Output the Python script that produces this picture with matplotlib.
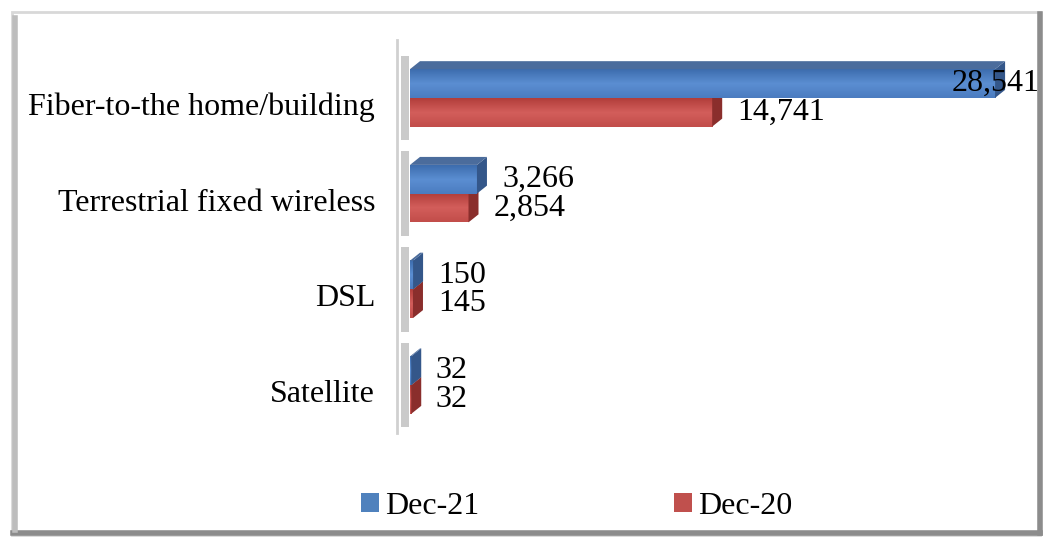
import numpy as np
import matplotlib
matplotlib.use("Agg")
import matplotlib.pyplot as plt
from matplotlib.patches import Polygon, Rectangle
from matplotlib.colors import LinearSegmentedColormap

categories = ["Fiber-to-the home/building", "Terrestrial fixed wireless", "DSL", "Satellite"]
dec21 = [28541, 3266, 150, 32]
dec20 = [14741, 2854, 145, 32]
series_names = ["Dec-21", "Dec-20"]

FONT = "Liberation Serif"
FS = 23
W, H = 1048, 541
XMAX = 30000
H_BAR = 0.30

fig = plt.figure(figsize=(W / 100, H / 100), dpi=100)
fig.patch.set_facecolor("white")

# outer frame with shadow
fig.add_artist(Rectangle((12 / W, 1 - 535 / H), 1028 / W, 523 / H, transform=fig.transFigure,
                         fill=False, edgecolor="#D8D8D8", linewidth=2))
fig.add_artist(plt.Line2D([13 / W, 1040 / W], [1 - 533 / H] * 2, transform=fig.transFigure,
                          color="#8C8C8C", linewidth=4))
fig.add_artist(plt.Line2D([1040 / W] * 2, [1 - 533 / H, 1 - 14 / H], transform=fig.transFigure,
                          color="#8C8C8C", linewidth=4))
fig.add_artist(plt.Line2D([15 / W] * 2, [1 - 530 / H, 1 - 18 / H], transform=fig.transFigure,
                          color="#BDBDBD", linewidth=4))

ax = fig.add_axes([410 / W, (H - 433) / H, 615 / W, 383 / H])
ax.set_xlim(0, XMAX)
ax.set_ylim(-0.5, len(categories) - 0.5)
ax.axis("off")

# depth of 3D effect in data units
dx = 10 * XMAX / 615
dy = 8 / 96

blue = LinearSegmentedColormap.from_list("b", ["#3D6DAE", "#5B8ED2", "#4B7CC0"])
red = LinearSegmentedColormap.from_list("r", ["#B23E3B", "#D35E5B", "#C24D4A"])
grad = np.linspace(0, 1, 50).reshape(-1, 1)

ypos = np.arange(len(categories))[::-1]

# left wall
for y in ypos:
    ax.add_patch(Rectangle((-dx * 0.9, y - 0.5 + 0.06), dx * 0.8, 0.88, facecolor="#8A8A8A",
                           alpha=0.45, edgecolor="none", clip_on=False))
ax.plot([-dx * 1.3, -dx * 1.3], [-0.5, len(categories) - 0.4], color="#D0D0D0", lw=2, clip_on=False)


def bar3d(x, y0, h, cmap, top, side):
    ax.imshow(grad, extent=[0, max(x, 60), y0, y0 + h], aspect="auto", cmap=cmap, zorder=2)
    xe = max(x, 60)
    ax.add_patch(Polygon([[xe, y0], [xe + dx, y0 + dy], [xe + dx, y0 + h + dy], [xe, y0 + h]],
                         closed=True, facecolor=side, edgecolor="none", zorder=2, clip_on=False))
    ax.add_patch(Polygon([[0, y0 + h], [dx, y0 + h + dy], [xe + dx, y0 + h + dy], [xe, y0 + h]],
                         closed=True, facecolor=top, edgecolor="none", zorder=2, clip_on=False))


for y, v21, v20 in zip(ypos, dec21, dec20):
    bar3d(v20, y - H_BAR, H_BAR, red, "#A94542", "#8A2E2C")
    bar3d(v21, y, H_BAR, blue, "#4B6C9C", "#34578A")
    for v, yc in [(v21, y + H_BAR / 2), (v20, y - H_BAR / 2)]:
        off = -31 if v > 0.9 * XMAX else 18
        ax.annotate(f"{v:,}", xy=(v, yc), xytext=(off, 0), textcoords="offset points",
                    ha="left", va="center", fontsize=FS, family=FONT, zorder=5,
                    annotation_clip=False)

for y, c in zip(ypos, categories):
    ax.text(-35 * XMAX / 615, y - 0.1, c, ha="right", va="center", fontsize=FS, family=FONT)

handles = [Rectangle((0, 0), 1, 1, facecolor="#4F81BD"), Rectangle((0, 0), 1, 1, facecolor="#C0504D")]
fig.legend(handles, series_names, loc="center", bbox_to_anchor=(577 / W, 1 - 506 / H), ncol=2,
           frameon=False, prop={"family": FONT, "size": FS}, handlelength=0.55, handleheight=0.55,
           handletextpad=0.2, columnspacing=6.1)

fig.savefig("out.png", dpi=100, facecolor="white")
